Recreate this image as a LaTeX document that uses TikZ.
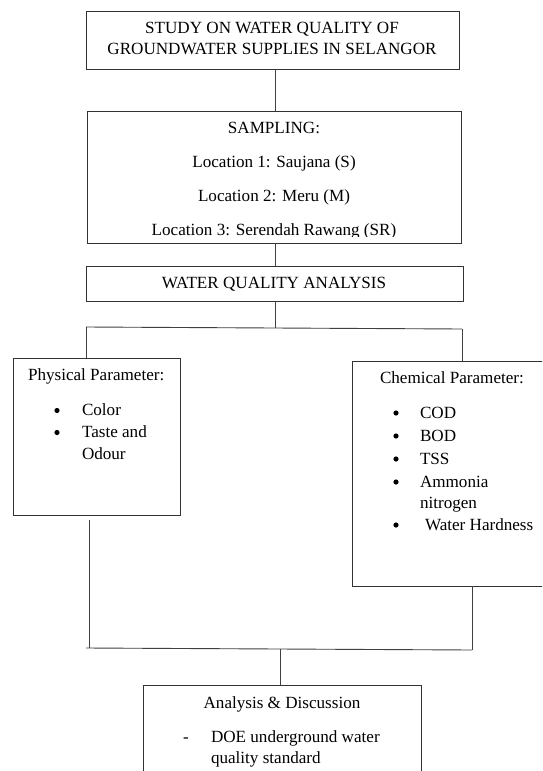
\documentclass[tikz,border=0pt]{standalone}
\usepackage{fontspec}
\setmainfont{Liberation Serif}
\begin{document}
\begin{tikzpicture}[x=1pt,y=-1pt,
  box/.style={draw=black!80,line width=0.9pt,inner sep=0pt,outer sep=0pt,anchor=north west},
  conn/.style={draw=black!75,line width=0.9pt},
  txt/.style={inner sep=0pt,outer sep=0pt,font=\fontsize{17.1}{22}\selectfont,text=black},
  ctxt/.style={txt,anchor=base},
  ltxt/.style={txt,anchor=base west},
  bul/.style={circle,fill=black,inner sep=0pt,outer sep=0pt,minimum size=5.2pt}]
\useasboundingbox (0,0) rectangle (542,771);
\clip (0,0) rectangle (542,771);
\fill[white] (0,0) rectangle (542,771);

% boxes
\node[box,minimum width=373pt,minimum height=58pt] (b1) at (86,11) {};
\node[box,minimum width=374pt,minimum height=132pt] (b2) at (87,111) {};
\node[box,minimum width=377pt,minimum height=35pt] (b3) at (86,266) {};
\node[box,minimum width=167pt,minimum height=157pt] (phys) at (13,358) {};
\node[box,minimum width=215pt,minimum height=225pt] (chem) at (352,361) {};
\node[box,minimum width=278pt,minimum height=110pt] (ana) at (143,685) {};

% title
\node[ctxt] (t1) at (272,33) {STUDY ON WATER QUALITY OF};
\node[ctxt] (t2) at (272,54) {GROUNDWATER SUPPLIES IN SELANGOR};

% sampling
\node[ctxt] (s0) at (274,133) {SAMPLING:};
\node[ctxt] (s1) at (274,167) {Location 1: Saujana (S)};
\node[ctxt] (s2) at (274,201) {Location 2: Meru (M)};
\begin{scope}
\clip (87,220) rectangle (461,236.5);
\node[ctxt] (s3) at (274,235) {Location 3: Serendah Rawang (SR)};
\end{scope}

% analysis
\node[ctxt] (w1) at (274,288) {WATER QUALITY ANALYSIS};

% physical
\node[ltxt] (p0) at (28,380) {Physical Parameter:};
\node[bul] (pb1) at (57,410.5) {};
\node[ltxt] (p1) at (82,415) {Color};
\node[bul] (pb2) at (57,432.5) {};
\node[ltxt] (p2) at (82,437) {Taste and};
\node[ltxt] (p3) at (82,459) {Odour};

% chemical
\node[ltxt] (c0) at (380,383) {Chemical Parameter:};
\node[bul] (cb1) at (396,413) {};
\node[ltxt] (c1) at (420,418) {COD};
\node[bul] (cb2) at (396,436) {};
\node[ltxt] (c2) at (420,441) {BOD};
\node[bul] (cb3) at (396,459) {};
\node[ltxt] (c3) at (420,464) {TSS};
\node[bul] (cb4) at (396,482) {};
\node[ltxt] (c4) at (420,487) {Ammonia};
\node[ltxt] (c5) at (420,508) {nitrogen};
\node[bul] (cb6) at (396,525) {};
\node[ltxt] (c6) at (425,530) {Water Hardness};

% discussion
\node[ctxt] (a0) at (282,708) {Analysis \& Discussion};
\node[ctxt] (ad) at (186,742) {-};
\node[ltxt] (a1) at (211,742) {DOE underground water};
\node[ltxt] (a2) at (211,763) {quality standard};

% connectors
\coordinate (jl) at (86,327);
\coordinate (jr) at (462,329);
\coordinate (j0) at (275,327.5);
\coordinate (p1s) at (89,520);
\coordinate (kl) at (86,648);
\coordinate (kr) at (472,650);
\coordinate (k0) at (280,649);

\draw[conn] (b1.south -| j0) -- (b2.north -| j0);
\draw[conn] (b2.south -| j0) -- (b3.north -| j0);
\draw[conn] (b3.south -| j0) -- (j0);
\draw[conn] (jl) -- (jr);
\draw[conn] (jl) -- (jl |- phys.north);
\draw[conn] (jr) -- (jr |- chem.north);
\draw[conn] (p1s) -- (p1s |- kl);
\draw[conn] (chem.south -| kr) -- (kr);
\draw[conn] (kl) -- (kr);
\draw[conn] (k0) -- (ana.north -| k0);
\end{tikzpicture}
\end{document}
